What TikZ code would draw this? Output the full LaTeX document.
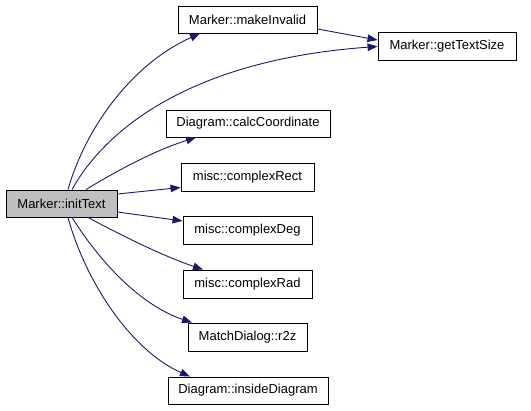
\documentclass[tikz,border=0pt]{standalone}
\usepackage{fontspec}
\setmainfont{Liberation Sans}
\usetikzlibrary{arrows.meta}
\definecolor{edgeblue}{HTML}{191970}
\definecolor{hlgray}{HTML}{BFBFBF}
\begin{document}
\begin{tikzpicture}[x=1pt,y=-1pt,
  fn/.style={draw=black,line width=0.9pt,rectangle,inner sep=0pt,minimum height=27pt,font=\fontsize{13pt}{15pt}\selectfont},
  call/.style={draw=edgeblue,line width=0.9pt,-{Triangle[length=10pt,width=7.5pt]}}]
\useasboundingbox (0,0) rectangle (531,411);
\node[fn,fill=hlgray,minimum width=111pt] (init) at (61.5,203.5) {Marker::initText};
\node[fn,minimum width=139pt] (mi) at (247.5,19.5) {Marker::makeInvalid};
\node[fn,minimum width=138pt,minimum height=28pt] (gts) at (447,46.5) {Marker::getTextSize};
\node[fn,minimum width=164pt] (cc) at (248,123.5) {Diagram::calcCoordinate};
\node[fn,minimum width=133pt,minimum height=28pt] (cr) at (247.5,177.5) {misc::complexRect};
\node[fn,minimum width=129pt,minimum height=28pt] (cd) at (247.5,230) {misc::complexDeg};
\node[fn,minimum width=129pt,minimum height=28pt] (crad) at (247.5,284) {misc::complexRad};
\node[fn,minimum width=119pt,minimum height=28pt] (r2z) at (247.5,337) {MatchDialog::r2z};
\node[fn,minimum width=160pt] (id) at (248,390.5) {Diagram::insideDiagram};
\draw[call] ([xshift=6.5pt]init.north) .. controls (85,130) and (130,65) .. ([xshift=-47.5pt]mi.south);
\draw[call] ([xshift=10.5pt]init.north) .. controls (105,130) and (190,60) .. (gts.west);
\draw[call] ([yshift=-9.5pt]mi.east) -- ([yshift=6.5pt]gts.west);
\draw[call] ([xshift=24.5pt]init.north) .. controls (110,175) and (150,152) .. ([xshift=-52pt]cc.south);
\draw[call] ([yshift=9.5pt]init.east) -- ([yshift=-10pt]cr.west);
\draw[call] ([yshift=-8.5pt]init.east) -- ([yshift=9pt]cd.west);
\draw[call] ([xshift=26.5pt]init.south) .. controls (115,232) and (160,255) .. ([xshift=-44.5pt]crad.north);
\draw[call] ([xshift=10.5pt]init.south) .. controls (100,262) and (140,305) .. ([xshift=-55.5pt]r2z.north);
\draw[call] ([xshift=6.5pt]init.south) .. controls (85,280) and (130,350) .. ([xshift=-58pt]id.north);
\end{tikzpicture}
\end{document}
